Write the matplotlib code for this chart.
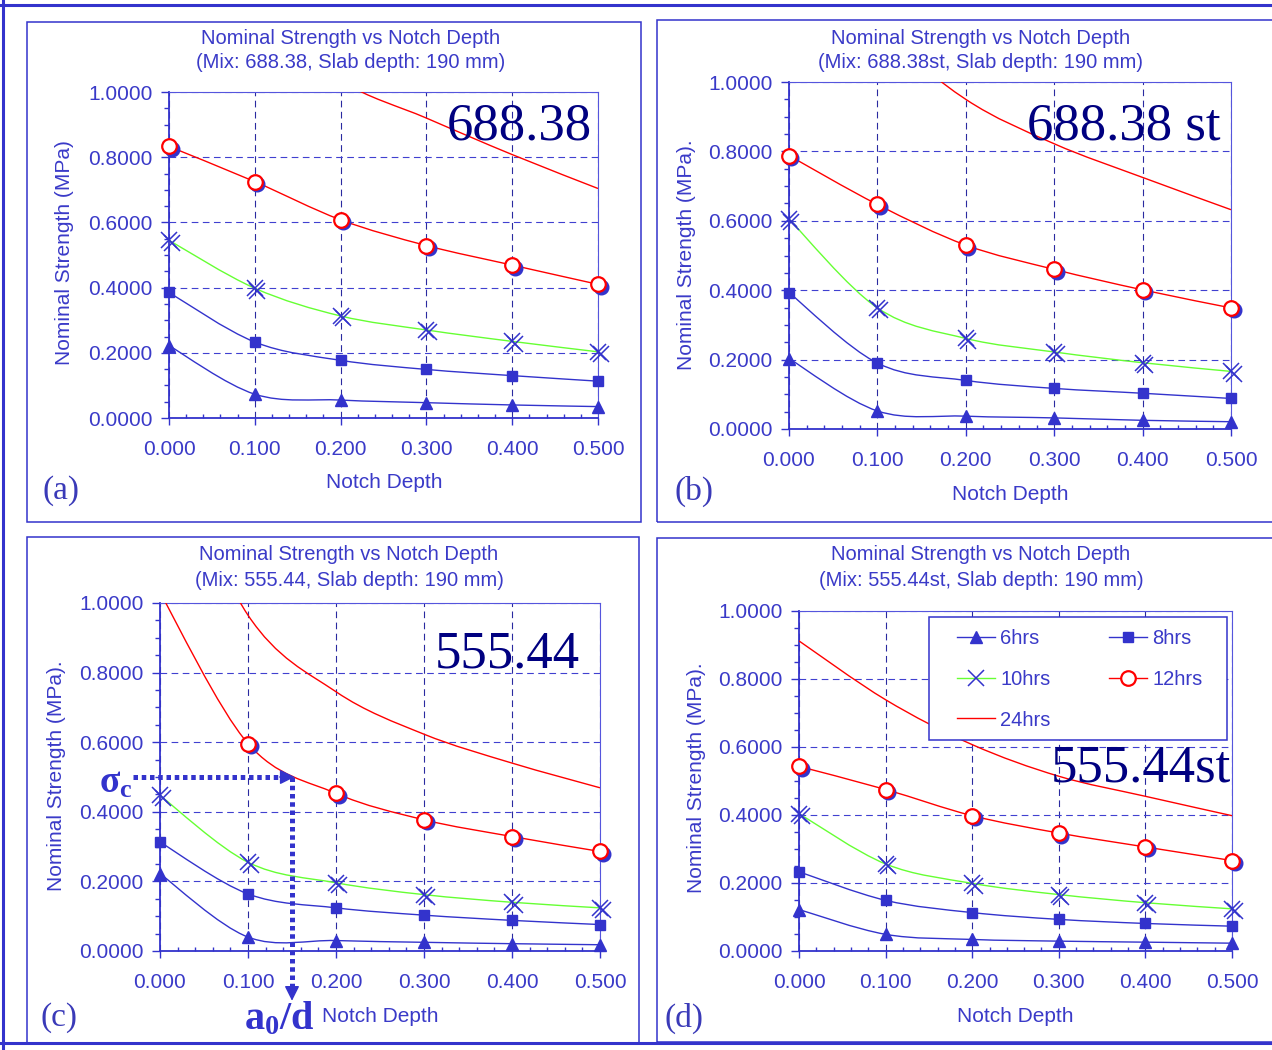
import numpy as np
import matplotlib
matplotlib.use('Agg')
import matplotlib.pyplot as plt
from matplotlib.path import Path
from matplotlib.patches import PathPatch, Rectangle
from matplotlib.lines import Line2D
import matplotlib.transforms as mtransforms
from matplotlib.ticker import MultipleLocator, FormatStrFormatter

plt.rcParams['font.family'] = ['Liberation Sans', 'DejaVu Sans']
plt.rcParams['mathtext.fontset'] = 'custom'
plt.rcParams['mathtext.rm'] = 'Liberation Serif:bold'
plt.rcParams['mathtext.it'] = 'Liberation Serif:bold'
plt.rcParams['mathtext.bf'] = 'Liberation Serif:bold'

# ---------------- data ----------------
notch_depth = [0.0, 0.1, 0.2, 0.3, 0.4, 0.5]
series_names = ['6hrs', '8hrs', '10hrs', '12hrs', '24hrs']

a_6hrs = [0.222, 0.073, 0.055, 0.047, 0.040, 0.035]
a_8hrs = [0.385, 0.233, 0.177, 0.149, 0.130, 0.113]
a_10hrs = [0.545, 0.398, 0.313, 0.270, 0.235, 0.203]
a_12hrs = [0.833, 0.725, 0.608, 0.529, 0.469, 0.410]
a_24hrs = [1.55, 1.25, 1.035, 0.920, 0.808, 0.704]

b_6hrs = [0.203, 0.052, 0.037, 0.032, 0.025, 0.021]
b_8hrs = [0.393, 0.190, 0.140, 0.117, 0.103, 0.088]
b_10hrs = [0.605, 0.349, 0.261, 0.222, 0.191, 0.166]
b_12hrs = [0.788, 0.647, 0.530, 0.460, 0.401, 0.349]
b_24hrs = [1.45, 1.16, 0.950, 0.822, 0.725, 0.632]

c_6hrs = [0.222, 0.040, 0.030, 0.025, 0.021, 0.018]
c_8hrs = [0.313, 0.164, 0.124, 0.103, 0.088, 0.076]
c_10hrs = [0.447, 0.255, 0.196, 0.162, 0.140, 0.124]
c_12hrs = [1.03, 0.596, 0.453, 0.377, 0.329, 0.286]
c_24hrs = [1.50, 0.965, 0.745, 0.623, 0.540, 0.469]

d_6hrs = [0.122, 0.049, 0.034, 0.029, 0.026, 0.023]
d_8hrs = [0.233, 0.149, 0.113, 0.093, 0.081, 0.073]
d_10hrs = [0.404, 0.256, 0.199, 0.166, 0.142, 0.124]
d_12hrs = [0.543, 0.475, 0.398, 0.347, 0.306, 0.266]
d_24hrs = [0.912, 0.739, 0.607, 0.514, 0.455, 0.398]

mixes = ['688.38', '688.38st', '555.44', '555.44st']
big_labels = ['688.38', '688.38 st', '555.44', '555.44st']
panel_letters = ['(a)', '(b)', '(c)', '(d)']
y_labels = ['Nominal Strength (MPa)', 'Nominal Strength (MPa).',
            'Nominal Strength (MPa).', 'Nominal Strength (MPa).']

# critical point annotation (panel c)
sigma_c = 0.5
a0_d = 0.15

# ---------------- styling ----------------
W, H = 1272, 1050
BLUE = '#3333CC'
NAVY = '#000080'
GREEN = '#66FF33'
RED = '#FF0000'
LBL = '#3a3ac8'


def fx(px):
    return px / W


def fy(py):
    return 1 - py / H


fig = plt.figure(figsize=(W / 100, H / 100), dpi=100)

# outer frame lines
for (x0, y0, x1, y1) in [(0, 5, W, 5), (3, 0, 3, H), (0, 1043, W, 1043)]:
    fig.add_artist(Line2D([fx(x0), fx(x1)], [fy(y0), fy(y1)], color=BLUE,
                          lw=2.2, transform=fig.transFigure))

# panel boxes (px: left, top, right, bottom)
boxes = [(27, 22, 641, 522), (657, 20, 1290, 522), (27, 537, 639, 1043), (657, 538, 1290, 1042)]
for (l, t, r, b) in boxes:
    fig.add_artist(Rectangle((fx(l), fy(b)), fx(r) - fx(l), fy(t) - fy(b), fill=False,
                             edgecolor=BLUE, lw=1.1, transform=fig.transFigure))

# axes placement (px: left, top, right, bottom)
axes_px = [(169, 92, 598, 418), (789, 82, 1231, 429), (160, 603, 600, 951), (799, 611, 1232, 951)]
title_px = [(351, 39, 63), (981, 38, 62), (349, 555, 580), (981, 555, 580)]
xlabel_px = [(384, 483), (1010, 494), (380, 1017), (1015, 1017)]
ylabel_px = [(65, 253), (686, 255), (57, 776), (696, 778)]
letter_px = [(43, 491), (675, 491), (41, 1018), (665, 1018)]
big_px = [(447, 139), (1027, 140), (435, 668), (1051, 782)]

data = [
    [a_6hrs, a_8hrs, a_10hrs, a_12hrs, a_24hrs],
    [b_6hrs, b_8hrs, b_10hrs, b_12hrs, b_24hrs],
    [c_6hrs, c_8hrs, c_10hrs, c_12hrs, c_24hrs],
    [d_6hrs, d_8hrs, d_10hrs, d_12hrs, d_24hrs],
]

line_colors = [BLUE, BLUE, GREEN, RED, RED]


def smooth_path(x, y):
    """Excel-style smoothed line (Catmull-Rom cubic Bezier through the points)."""
    pts = np.column_stack([x, y]).astype(float)
    n = len(pts)
    verts = [pts[0]]
    codes = [Path.MOVETO]
    for i in range(n - 1):
        p0 = pts[i - 1] if i > 0 else pts[i]
        p1 = pts[i]
        p2 = pts[i + 1]
        p3 = pts[i + 2] if i + 2 < n else pts[i + 1]
        verts += [p1 + (p2 - p0) / 6.0, p2 - (p3 - p1) / 6.0, p2]
        codes += [Path.CURVE4] * 3
    return Path(verts, codes)


axes = []
for k in range(4):
    l, t, r, b = axes_px[k]
    ax = fig.add_axes([fx(l), fy(b), fx(r) - fx(l), fy(t) - fy(b)])
    axes.append(ax)
    ax.set_xlim(0, 0.5)
    ax.set_ylim(0, 1.0)
    ax.patch.set_alpha(0)

    x = np.array(notch_depth)
    shadow = mtransforms.offset_copy(ax.transData, fig=fig, x=2.5, y=-2.5, units='dots')

    for j, vals in enumerate(data[k]):
        vals = np.array(vals, dtype=float)
        pp = PathPatch(smooth_path(x, vals), fill=False, edgecolor=line_colors[j],
                       lw=1.0, zorder=3)
        ax.add_patch(pp)
        vis = vals <= 1.0
        xm, ym = x[vis], vals[vis]
        if j == 0:
            ax.plot(xm, ym, ls='none', marker='^', ms=9, color=BLUE, clip_on=False, zorder=4)
        elif j == 1:
            ax.plot(xm, ym, ls='none', marker='s', ms=7.5, color=BLUE, clip_on=False, zorder=4)
        elif j == 2:
            ax.plot(xm, ym, ls='none', marker='x', ms=11, mew=1.1, color=BLUE,
                    transform=shadow, clip_on=False, zorder=4)
            ax.plot(xm, ym, ls='none', marker='x', ms=11, mew=1.1, color=BLUE,
                    clip_on=False, zorder=5)
        elif j == 3:
            ax.plot(xm, ym, ls='none', marker='o', ms=10.5, color=BLUE, mec=BLUE,
                    transform=shadow, clip_on=False, zorder=4)
            ax.plot(xm, ym, ls='none', marker='o', ms=10.5, mfc='white', mec=RED,
                    mew=1.6, clip_on=False, zorder=5)

    ax.xaxis.set_major_locator(MultipleLocator(0.1))
    ax.xaxis.set_minor_locator(MultipleLocator(0.02))
    ax.yaxis.set_major_locator(MultipleLocator(0.2))
    ax.yaxis.set_minor_locator(MultipleLocator(0.05))
    ax.xaxis.set_major_formatter(FormatStrFormatter('%.3f'))
    ax.yaxis.set_major_formatter(FormatStrFormatter('%.4f'))
    ax.tick_params(axis='both', which='both', colors=BLUE, labelcolor=LBL, width=1.0)
    ax.tick_params(axis='y', which='major', direction='out', length=6, pad=6, labelsize=15)
    ax.tick_params(axis='y', which='minor', direction='out', length=3.5)
    ax.tick_params(axis='x', which='major', direction='out', length=5, pad=11, labelsize=15)
    ax.tick_params(axis='x', which='minor', direction='in', length=3)

    ax.grid(True, axis='x', which='major', color='#2a2aa0', ls=(0, (6, 4)), lw=0.8)
    ax.grid(True, axis='y', which='major', color='#4040d0', ls=(0, (6, 4)), lw=0.8)
    ax.set_axisbelow(True)
    for side in ['left', 'bottom']:
        ax.spines[side].set_color(BLUE)
        ax.spines[side].set_linewidth(1.3)
    for side in ['top', 'right']:
        ax.spines[side].set_color('#5555dd')
        ax.spines[side].set_linewidth(0.8)

    # texts
    cx, y1, y2 = title_px[k]
    fig.text(fx(cx), fy(y1), 'Nominal Strength vs Notch Depth', ha='center', va='center',
             fontsize=14.5, color=LBL)
    fig.text(fx(cx), fy(y2), '(Mix: %s, Slab depth: 190 mm)' % mixes[k], ha='center',
             va='center', fontsize=14.5, color=LBL)
    fig.text(fx(xlabel_px[k][0]), fy(xlabel_px[k][1]), 'Notch Depth', ha='center',
             va='center', fontsize=15, color=LBL)
    fig.text(fx(ylabel_px[k][0]), fy(ylabel_px[k][1]), y_labels[k], ha='center',
             va='center', rotation=90, fontsize=15, color=LBL)
    fig.text(fx(letter_px[k][0]), fy(letter_px[k][1]), panel_letters[k], ha='left',
             va='center', fontsize=24, color='#3a3ab8', family='Liberation Serif')
    fig.text(fx(big_px[k][0]), fy(big_px[k][1]), big_labels[k], ha='left',
             va='baseline', fontsize=38, color=NAVY, family='Liberation Serif', zorder=6)

# legend in panel (d)
h6 = Line2D([], [], color=BLUE, lw=1.0, marker='^', ms=9)
h8 = Line2D([], [], color=BLUE, lw=1.0, marker='s', ms=7.5)
h10 = Line2D([], [], color=GREEN, lw=1.0, marker='x', ms=11, mec=BLUE, mew=1.1)
h12 = Line2D([], [], color=RED, lw=1.0, marker='o', ms=10.5, mfc='white', mec=RED, mew=1.6)
h24 = Line2D([], [], color=RED, lw=1.0)
fig.add_artist(Rectangle((fx(929), fy(740)), fx(1227) - fx(929), fy(617) - fy(740),
                         facecolor='white', edgecolor=BLUE, lw=1.1,
                         transform=fig.transFigure, zorder=7))
leg = fig.legend([h6, h10, h24, h8, h12],
                 [series_names[0], series_names[2], series_names[4], series_names[1], series_names[3]],
                 ncol=2, loc='upper left', bbox_to_anchor=(fx(957), fy(629)), frameon=False,
                 fontsize=14.5, labelcolor=LBL, handlelength=1.9, handletextpad=0.25,
                 columnspacing=2.9, labelspacing=1.08, borderpad=0, borderaxespad=0)
leg.set_zorder(8)

# critical strength annotation in panel (c): dotted guide lines with arrow heads
axc = axes[2]
dot_kw = dict(color=BLUE, lw=3.6, ls=(0, (0.9, 0.75)), dash_capstyle='butt',
              clip_on=False, zorder=6)
axc.plot([-0.031, a0_d - 0.012], [sigma_c, sigma_c], **dot_kw)
axc.plot([a0_d, a0_d], [sigma_c, -0.112], **dot_kw)
head_kw = dict(arrowstyle='-|>,head_length=0.9,head_width=0.45', color=BLUE, lw=1.0,
               shrinkA=0, shrinkB=0)
axc.annotate('', xy=(a0_d + 0.003, sigma_c), xytext=(a0_d - 0.014, sigma_c),
             arrowprops=head_kw, annotation_clip=False, zorder=7)
axc.annotate('', xy=(a0_d, -0.143), xytext=(a0_d, -0.105),
             arrowprops=head_kw, annotation_clip=False, zorder=7)
fig.text(fx(99), fy(783), r'$\sigma_c$', ha='left', va='center', fontsize=27, color=BLUE)
fig.text(fx(244), fy(1018), r'$a_0/d$', ha='left', va='center', fontsize=29, color=BLUE)

fig.savefig('out.png', dpi=100)
